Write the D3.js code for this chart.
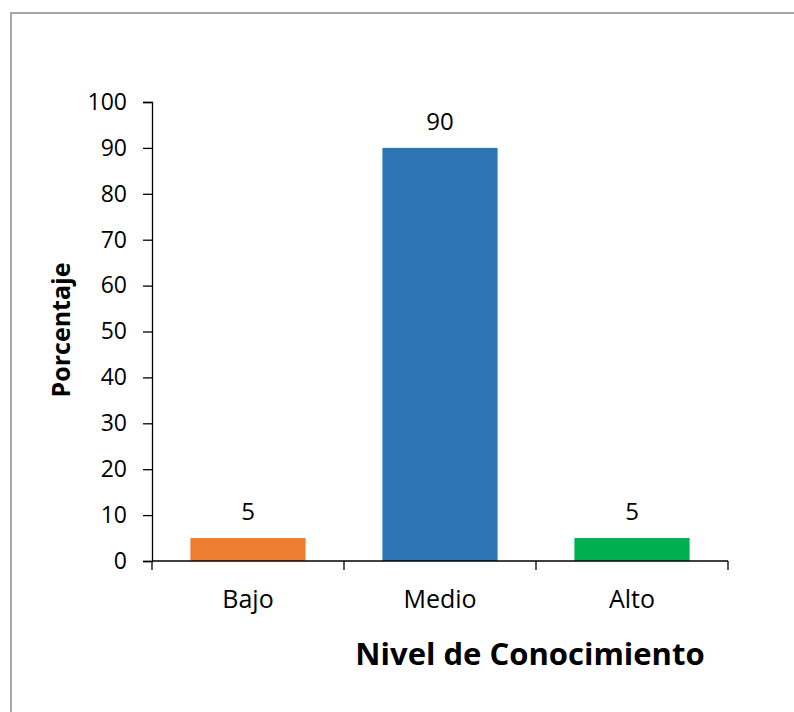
<!DOCTYPE html>
<html>
<head>
<meta charset="utf-8">
<script src="https://cdn.jsdelivr.net/npm/d3@7"></script>
<style>
  body { margin: 0; background: #fff; }
  svg text { font-family: "Open Sans", sans-serif; fill: #000; }
</style>
</head>
<body>
<div id="chart"></div>
<script>
var width = 794;
var height = 712;

var categories = ["Bajo", "Medio", "Alto"];
var values = [5, 90, 5];
var colors = ["#ED7D31", "#2E75B6", "#00B050"];
var yTicks = [0, 10, 20, 30, 40, 50, 60, 70, 80, 90, 100];

var svg = d3.select("#chart")
  .append("svg")
  .attr("width", width)
  .attr("height", height);

// outer frame (right and bottom sides fall outside the picture)
svg.append("rect")
  .attr("x", 11)
  .attr("y", 13)
  .attr("width", 820)
  .attr("height", 740)
  .attr("fill", "none")
  .attr("stroke", "#a6a6a6")
  .attr("stroke-width", 2);

var x = d3.scaleBand()
  .domain(categories)
  .range([152, 728])
  .paddingInner(0.4)
  .paddingOuter(0.2);

var y = d3.scaleLinear()
  .domain([0, 100])
  .range([561, 102]);

// bars
svg.selectAll(".bar")
  .data(values)
  .enter()
  .append("rect")
  .attr("class", "bar")
  .attr("x", function(d, i) { return x(categories[i]); })
  .attr("y", function(d) { return y(d); })
  .attr("width", x.bandwidth())
  .attr("height", function(d) { return y(0) - y(d); })
  .attr("fill", function(d, i) { return colors[i]; });

// value labels
svg.selectAll(".val")
  .data(values)
  .enter()
  .append("text")
  .attr("class", "val")
  .attr("x", function(d, i) { return x(categories[i]) + x.bandwidth() / 2; })
  .attr("y", function(d) { return y(d) - 18; })
  .attr("text-anchor", "middle")
  .style("font-size", "24px")
  .text(function(d) { return d; });

// y axis
var yAxis = svg.append("g")
  .attr("transform", "translate(152,0)")
  .call(d3.axisLeft(y).tickValues(yTicks).tickSize(9).tickPadding(16));
yAxis.selectAll("text").style("font-size", "23px");
yAxis.select(".domain").attr("stroke-width", 1.3);
yAxis.selectAll(".tick line").attr("stroke-width", 1.3);

// x axis with ticks on band edges
var xAxis = svg.append("g")
  .attr("transform", "translate(0,561)");
xAxis.append("line")
  .attr("x1", 152).attr("x2", 728)
  .attr("stroke", "#000").attr("stroke-width", 1.3);
var edges = [152].concat(categories.map(function(c) { return x(c) + x.bandwidth() + x.step() * 0.2; }));
xAxis.selectAll(".edge")
  .data(edges)
  .enter()
  .append("line")
  .attr("x1", function(d) { return d; })
  .attr("x2", function(d) { return d; })
  .attr("y1", 0).attr("y2", 9)
  .attr("stroke", "#000").attr("stroke-width", 1.3);
xAxis.selectAll(".cat")
  .data(categories)
  .enter()
  .append("text")
  .attr("x", function(d) { return x(d) + x.bandwidth() / 2; })
  .attr("y", 47)
  .attr("text-anchor", "middle")
  .style("font-size", "25px")
  .text(function(d) { return d; });

// axis titles
svg.append("text")
  .attr("x", 530)
  .attr("y", 665)
  .attr("text-anchor", "middle")
  .style("font-size", "31px")
  .style("font-weight", "bold")
  .text("Nivel de Conocimiento");

svg.append("text")
  .attr("transform", "translate(70,330) rotate(-90)")
  .attr("text-anchor", "middle")
  .style("font-size", "25px")
  .style("font-weight", "bold")
  .text("Porcentaje");
</script>
</body>
</html>
